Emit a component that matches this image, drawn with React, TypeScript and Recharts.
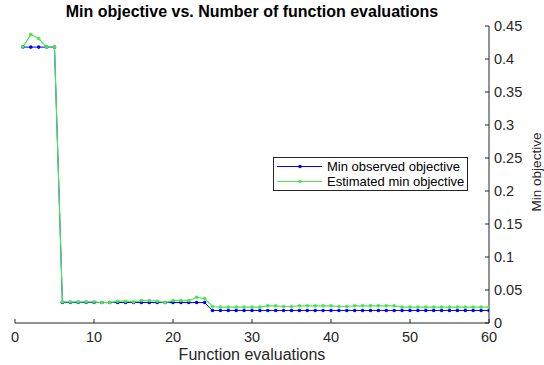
import React from 'react';
import { LineChart, Line, XAxis, YAxis, Legend } from 'recharts';

const evaluations = [
  1, 2, 3, 4, 5, 6, 7, 8, 9, 10,
  11, 12, 13, 14, 15, 16, 17, 18, 19, 20,
  21, 22, 23, 24, 25, 26, 27, 28, 29, 30,
  31, 32, 33, 34, 35, 36, 37, 38, 39, 40,
  41, 42, 43, 44, 45, 46, 47, 48, 49, 50,
  51, 52, 53, 54, 55, 56, 57, 58, 59, 60,
];

const minObserved = [
  0.418, 0.418, 0.418, 0.418, 0.418, 0.031, 0.031, 0.031, 0.031, 0.031,
  0.031, 0.031, 0.031, 0.031, 0.031, 0.031, 0.031, 0.031, 0.031, 0.031,
  0.031, 0.031, 0.031, 0.031, 0.019, 0.019, 0.019, 0.019, 0.019, 0.019,
  0.019, 0.019, 0.019, 0.019, 0.019, 0.019, 0.019, 0.019, 0.019, 0.019,
  0.019, 0.019, 0.019, 0.019, 0.019, 0.019, 0.019, 0.019, 0.019, 0.019,
  0.019, 0.019, 0.019, 0.019, 0.019, 0.019, 0.019, 0.019, 0.019, 0.019,
];

const estimatedMin = [
  0.418, 0.437, 0.431, 0.418, 0.418, 0.032, 0.032, 0.032, 0.032, 0.032,
  0.031, 0.031, 0.033, 0.033, 0.032, 0.034, 0.034, 0.033, 0.031, 0.034,
  0.034, 0.034, 0.039, 0.037, 0.025, 0.024, 0.024, 0.024, 0.024, 0.024,
  0.024, 0.026, 0.026, 0.025, 0.025, 0.026, 0.026, 0.026, 0.026, 0.026,
  0.025, 0.025, 0.026, 0.026, 0.026, 0.026, 0.026, 0.026, 0.024, 0.024,
  0.024, 0.024, 0.024, 0.024, 0.024, 0.024, 0.024, 0.024, 0.024, 0.024,
];

const xTicks = [0, 10, 20, 30, 40, 50, 60];
const yTicks = [0, 0.05, 0.1, 0.15, 0.2, 0.25, 0.3, 0.35, 0.4, 0.45];
const yTickLabels = ['0', '0.05', '0.1', '0.15', '0.2', '0.25', '0.3', '0.35', '0.4', '0.45'];

const seriesNames = ['Min observed objective', 'Estimated min objective'];
const BLUE = '#0000ff';
const GREEN = '#4de64d';
const AXIS = '#262626';
const FONT = 'Arial, "Liberation Sans", Helvetica, sans-serif';

const data = evaluations.map((e, i) => ({
  evals: e,
  observed: minObserved[i],
  estimated: estimatedMin[i],
}));

const XTick = (props: any) => {
  const { x, y, payload } = props;
  return (
    <g>
      <line x1={x} x2={x} y1={y} y2={y - 4} stroke={AXIS} strokeWidth={1} />
      <text x={x} y={y + 19} textAnchor="middle" fontSize={14.5} fill={AXIS} fontFamily={FONT}>
        {payload.value}
      </text>
    </g>
  );
};

const YTick = (props: any) => {
  const { x, y, payload } = props;
  const idx = yTicks.findIndex((t) => Math.abs(t - payload.value) < 1e-9);
  return (
    <g>
      <line x1={x} x2={x - 4} y1={y} y2={y} stroke={AXIS} strokeWidth={1} />
      <text x={x + 5} y={y} dy="0.35em" textAnchor="start" fontSize={14.5} fill={AXIS} fontFamily={FONT}>
        {idx >= 0 ? yTickLabels[idx] : payload.value}
      </text>
    </g>
  );
};

const LegendBox = () => {
  const colors = [BLUE, GREEN];
  return (
    <div
      style={{
        border: `1px solid ${AXIS}`,
        background: '#fff',
        padding: '1px 3px 1px 2px',
        fontFamily: FONT,
        fontSize: 13,
        color: '#000',
        lineHeight: '15px',
        whiteSpace: 'nowrap',
      }}
    >
      {seriesNames.map((name, i) => (
        <div key={name} style={{ display: 'flex', alignItems: 'center' }}>
          <svg width={48} height={15} style={{ display: 'block' }}>
            <line x1={1} x2={46} y1={7.5} y2={7.5} stroke={colors[i]} strokeWidth={1} />
            <circle cx={24} cy={7.5} r={1.8} fill={colors[i]} />
          </svg>
          <span style={{ marginLeft: 3 }}>{name}</span>
        </div>
      ))}
    </div>
  );
};

export default function App() {
  return (
    <div
      style={{
        position: 'absolute',
        left: 0,
        top: 0,
        width: 544,
        height: 365,
        background: '#fff',
        fontFamily: FONT,
        overflow: 'hidden',
      }}
    >
      <div
        style={{
          position: 'absolute',
          left: 0,
          top: 3,
          width: 504,
          textAlign: 'center',
          fontWeight: 'bold',
          fontSize: 16,
          color: '#000',
          whiteSpace: 'nowrap',
        }}
      >
        Min objective vs. Number of function evaluations
      </div>
      <LineChart
        width={544}
        height={365}
        data={data}
        margin={{ top: 26, right: 0, bottom: 0, left: 15 }}
      >
        <XAxis
          dataKey="evals"
          type="number"
          domain={[0, 60]}
          ticks={xTicks}
          allowDataOverflow
          height={42}
          tickSize={0}
          tickMargin={0}
          tickLine={false}
          axisLine={{ stroke: AXIS, strokeWidth: 1 }}
          tick={<XTick />}
          interval={0}
        />
        <YAxis
          orientation="right"
          type="number"
          domain={[0, 0.45]}
          ticks={yTicks}
          allowDataOverflow
          width={55}
          tickSize={0}
          tickMargin={0}
          tickLine={false}
          axisLine={{ stroke: AXIS, strokeWidth: 1 }}
          tick={<YTick />}
          interval={0}
        />
        <Legend
          layout="vertical"
          align="center"
          verticalAlign="middle"
          content={() => <LegendBox />}
          wrapperStyle={{ position: 'absolute', left: 273, top: 157, width: 'auto' }}
        />
        <Line
          type="linear"
          dataKey="observed"
          name={seriesNames[0]}
          stroke={BLUE}
          strokeWidth={1}
          dot={{ r: 1.8, fill: BLUE, stroke: BLUE, strokeWidth: 0 }}
          activeDot={false}
          isAnimationActive={false}
        />
        <Line
          type="linear"
          dataKey="estimated"
          name={seriesNames[1]}
          stroke={GREEN}
          strokeWidth={1.2}
          dot={{ r: 1.8, fill: GREEN, stroke: GREEN, strokeWidth: 0 }}
          activeDot={false}
          isAnimationActive={false}
        />
      </LineChart>
      <div
        style={{
          position: 'absolute',
          left: 0,
          top: 347,
          width: 504,
          textAlign: 'center',
          fontSize: 16,
          color: AXIS,
          whiteSpace: 'nowrap',
          lineHeight: '16px',
        }}
      >
        Function evaluations
      </div>
      <div
        style={{
          position: 'absolute',
          left: 537,
          top: 172,
          transform: 'translate(-50%, -50%) rotate(-90deg)',
          fontSize: 13.5,
          color: AXIS,
          whiteSpace: 'nowrap',
          lineHeight: '14px',
        }}
      >
        Min objective
      </div>
    </div>
  );
}
